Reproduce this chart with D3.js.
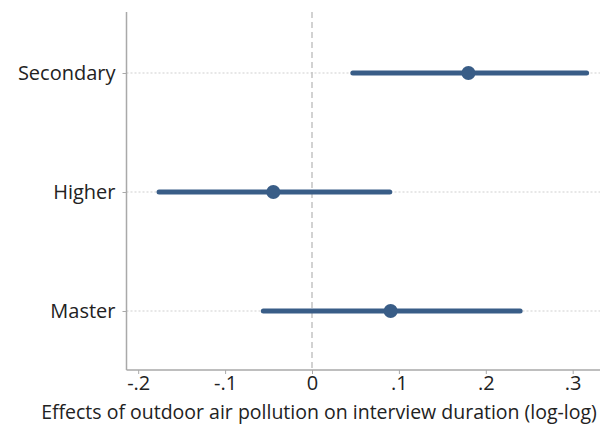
<!DOCTYPE html>
<html>
<head>
<meta charset="utf-8">
<script src="https://cdn.jsdelivr.net/npm/d3@7"></script>
<style>
  html, body { margin: 0; padding: 0; background: #ffffff; }
  svg { display: block; }
  text { font-family: "Open Sans", sans-serif; fill: #222; }
</style>
</head>
<body>
<svg id="chart" width="608" height="426"></svg>
<script>
// Education groups, top to bottom
const groups = ["Secondary", "Higher", "Master"];
// Point estimates and 95% confidence bounds
const estimates = [0.180, -0.0445, 0.0905];
const lowerCI = [0.047, -0.176, -0.056];
const upperCI = [0.316, 0.0895, 0.2395];
// X axis ticks and their labels
const xTicks = [-0.2, -0.1, 0, 0.1, 0.2, 0.3];
const xTickLabels = ["-.2", "-.1", "0", ".1", ".2", ".3"];
const xTitle = "Effects of outdoor air pollution on interview duration (log-log)";

const svg = d3.select("#chart");
const plot = { left: 126.5, right: 600, top: 12, bottom: 370 };

const x = d3.scaleLinear().domain([0, 0.1]).range([312, 398.9]);
const y = d3.scalePoint().domain(groups).range([73, 311]);

const rows = groups.map((g, i) => ({ g, est: estimates[i], lo: lowerCI[i], hi: upperCI[i] }));

// horizontal dotted guide lines at each group
svg.append("g").selectAll("line").data(groups).join("line")
  .attr("x1", plot.left).attr("x2", plot.right)
  .attr("y1", d => y(d)).attr("y2", d => y(d))
  .attr("stroke", "#cfcfcf").attr("stroke-width", 1)
  .attr("stroke-dasharray", "2,2");

// reference line at zero
svg.append("line")
  .attr("x1", x(0)).attr("x2", x(0))
  .attr("y1", plot.top).attr("y2", plot.bottom)
  .attr("stroke", "#c4c4c4").attr("stroke-width", 1.5)
  .attr("stroke-dasharray", "6,4");

// x axis
const xAxis = d3.axisBottom(x)
  .tickValues(xTicks)
  .tickFormat((d, i) => xTickLabels[i])
  .tickSize(4).tickSizeOuter(0);
const gx = svg.append("g").attr("transform", `translate(0,${plot.bottom})`).call(xAxis);
gx.select(".domain").attr("d", `M${plot.left},0H${plot.right}`).attr("stroke", "#a9a9a9").attr("stroke-width", 1.5);
gx.selectAll(".tick line").attr("stroke", "#a9a9a9").attr("stroke-width", 1);
gx.selectAll(".tick text").attr("y", 6).attr("font-size", 20).attr("font-family", "Open Sans, sans-serif").attr("fill", "#222");

// y axis
const yAxis = d3.axisLeft(y).tickSize(4).tickPadding(7).tickSizeOuter(0);
const gy = svg.append("g").attr("transform", `translate(${plot.left},0)`).call(yAxis);
gy.select(".domain").attr("d", `M0,${plot.top}V${plot.bottom}`).attr("stroke", "#a9a9a9").attr("stroke-width", 1.5);
gy.selectAll(".tick line").attr("stroke", "#a9a9a9").attr("stroke-width", 1);
gy.selectAll(".tick text").attr("font-size", 20).attr("font-family", "Open Sans, sans-serif").attr("fill", "#222");

// confidence intervals
svg.append("g").selectAll("line").data(rows).join("line")
  .attr("x1", d => x(d.lo)).attr("x2", d => x(d.hi))
  .attr("y1", d => y(d.g)).attr("y2", d => y(d.g))
  .attr("stroke", "#395d87").attr("stroke-width", 5)
  .attr("stroke-linecap", "round");

// point estimates
svg.append("g").selectAll("circle").data(rows).join("circle")
  .attr("cx", d => x(d.est)).attr("cy", d => y(d.g)).attr("r", 7)
  .attr("fill", "#395d87");

// x axis title
svg.append("text")
  .attr("x", 319).attr("y", 419)
  .attr("text-anchor", "middle")
  .attr("font-size", 19.5)
  .text(xTitle);
</script>
</body>
</html>
